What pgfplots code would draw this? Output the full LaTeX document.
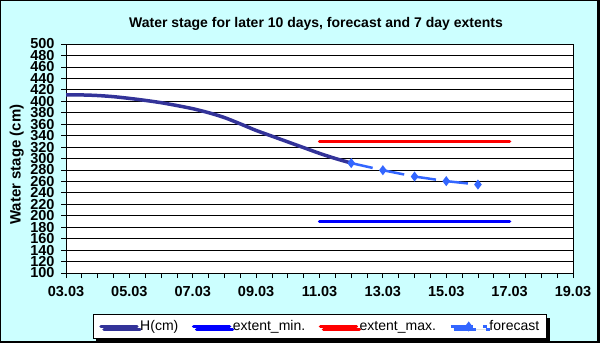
\documentclass[border=0pt]{standalone}
\usepackage{fontspec}
\setmainfont{Liberation Sans}
\usepackage{pgfplots}
\pgfplotsset{compat=1.18}
\usetikzlibrary{shadows}
\definecolor{bgcyan}{HTML}{CCFFFF}
\definecolor{hblue}{HTML}{333399}
\definecolor{minblue}{HTML}{0000FF}
\definecolor{maxred}{HTML}{FF0000}
\definecolor{fcblue}{HTML}{3366FF}

\begin{document}
\begin{tikzpicture}
\useasboundingbox (0,0) rectangle (600pt,343pt);
\fill[bgcyan] (0,0) rectangle (600pt,343pt);
\draw[black,line width=1pt] (0.5pt,0.5pt) rectangle (598pt,342.5pt);
\fill[black] (597pt,0pt) rectangle (600pt,343pt);
\fill[black] (0pt,0pt) rectangle (600pt,2pt);

\node[font=\fontsize{14}{16}\selectfont\bfseries,anchor=base,inner sep=0pt]
  at (316pt,315.7pt) {Water stage for later 10 days, forecast and 7 day extents};

\begin{axis}[
  at={(66pt,70pt)}, anchor=south west,
  scale only axis, width=507pt, height=229pt,
  xmin=3, xmax=19, ymin=100, ymax=500,
  xtick={3,5,...,19},
  xticklabels={03.03,05.03,07.03,09.03,11.03,13.03,15.03,17.03,19.03},
  minor x tick num=3,
  ytick={100,120,...,500},
  ymajorgrids, grid style={black,line width=0.8pt},
  axis background/.style={fill=white},
  axis line style={line width=1pt},
  every tick/.style={black,line width=0.8pt},
  tick align=outside, xtick pos=left, ytick pos=left,
  major tick length=5pt, minor tick length=5pt,
  ticklabel style={font=\fontsize{14.5}{15}\selectfont\bfseries},
  xticklabel style={yshift=-5pt},
  yticklabel style={xshift=-3pt},
  /pgf/number format/assume math mode=true,
  ylabel={Water stage (cm)},
  ylabel style={at={(axis description cs:-0.0972,0.473)},anchor=center,
    font=\fontsize{15}{16}\selectfont\bfseries},
  legend columns=4,
  legend style={at={(0.501,-0.2336)},anchor=center,draw=black,fill=white,
    line width=0.8pt,
    font=\fontsize{14}{15}\selectfont,
    inner xsep=6pt, inner ysep=4pt,
    drop shadow={shadow xshift=3pt,shadow yshift=-3pt,fill=black,opacity=1},
    /tikz/every even column/.append style={column sep=12pt},
    nodes={inner xsep=1.5pt}},
  legend image code/.code={\draw[mark repeat=2,mark phase=2,#1]
    plot coordinates {(0pt,0pt) (18pt,0pt) (36pt,0pt)};},
]
\addplot[hblue,line width=3.5pt,smooth,line cap=round] coordinates {
  (3,411) (3.5,411) (4,410) (4.5,408) (5,405) (5.5,401.5) (6,397.5) (6.5,392.5)
  (7,387) (7.5,380) (8,371.5) (8.5,360.5) (9,349) (9.5,339) (10,329) (10.5,319)
  (11,309) (11.5,300) (12,292)
};
\addlegendentry{H(cm)}
\addplot[minblue,line width=3.5pt,line cap=round] coordinates {(11,190) (17,190)};
\addlegendentry{extent\_min.}
\addplot[maxred,line width=3.5pt,line cap=round] coordinates {(11,330) (17,330)};
\addlegendentry{extent\_max.}
\addplot[fcblue,line width=2.5pt,dash pattern=on 22pt off 10.2pt,
  mark=diamond*,mark size=3pt,mark options={solid}] coordinates {
  (12,292) (13,279.5) (14,268.5) (15,260.5) (16,254.5)
};
\addlegendentry{forecast}
\end{axis}
\end{tikzpicture}
\end{document}
